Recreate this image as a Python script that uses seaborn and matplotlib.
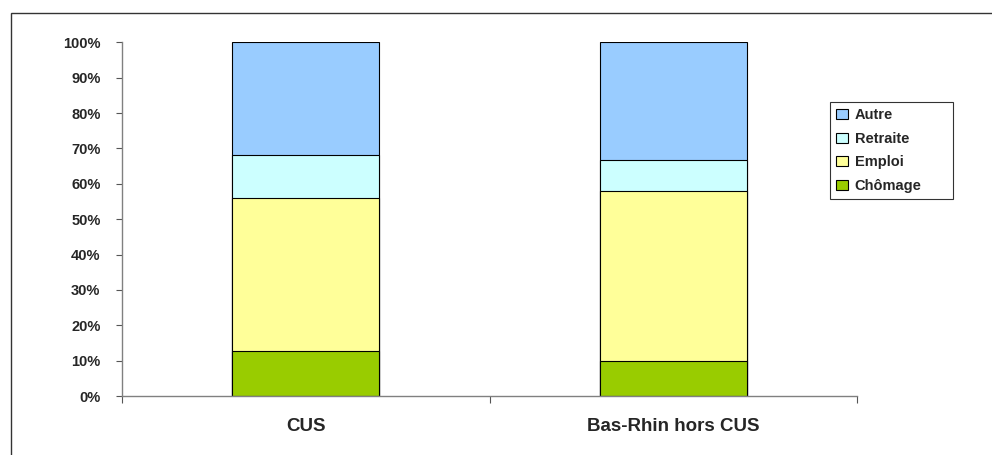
import numpy as np
import pandas as pd
import matplotlib
matplotlib.use("Agg")
import matplotlib.pyplot as plt
from matplotlib.patches import Rectangle, Patch
import seaborn as sns

# ---- data ----
categories = ["CUS", "Bas-Rhin hors CUS"]
series_names = ["Chômage", "Emploi", "Retraite", "Autre"]
chomage = [12.8, 9.8]
emploi = [43.2, 48.2]
retraite = [12.1, 8.6]
autre = [31.9, 33.4]
colors = ["#99CC00", "#FFFF99", "#CCFFFF", "#99CCFF"]
ytick_values = [0, 10, 20, 30, 40, 50, 60, 70, 80, 90, 100]
ytick_labels = ["0%", "10%", "20%", "30%", "40%", "50%", "60%", "70%", "80%", "90%", "100%"]

sns.set_style("white")
plt.rcParams["font.family"] = ["Liberation Sans", "DejaVu Sans"]
plt.rcParams["font.weight"] = "bold"

fig = plt.figure(figsize=(9.92, 4.55), dpi=100)
W, H = 992, 455
ax = fig.add_axes([122 / W, 1 - 396 / H, (857 - 122) / W, (396 - 42.3) / H])

stack = np.vstack([chomage, emploi, retraite, autre])
cum = np.cumsum(stack, axis=0)
df = pd.DataFrame(cum.T, columns=series_names)
df["cat"] = categories

# draw from top segment down so lower segments overlay
for i in range(len(series_names) - 1, -1, -1):
    sns.barplot(data=df, x="cat", y=series_names[i], color=colors[i],
                width=0.4, edgecolor="black", linewidth=0.8,
                saturation=1, ax=ax, errorbar=None)

ax.set_xlim(-0.5, 1.5)
ax.set_ylim(0, 100)
ax.set_xlabel("")
ax.set_ylabel("")
ax.set_yticks(ytick_values)
ax.set_yticklabels(ytick_labels, fontsize=10.5, fontweight="bold")
ax.tick_params(axis="y", length=4.5, width=0.8, color="#555555", pad=11, direction="out", left=True)
ax.set_xticks([0, 1])
ax.set_xticklabels(categories, fontsize=13.5, fontweight="bold")
ax.tick_params(axis="x", which="major", length=0, pad=16)
ax.set_xticks([-0.5, 0.5, 1.5], minor=True)
ax.tick_params(axis="x", which="minor", length=5, width=0.8, color="#555555", direction="out", bottom=True)
for s in ["top", "right"]:
    ax.spines[s].set_visible(False)
for s in ["left", "bottom"]:
    ax.spines[s].set_color("#808080")
    ax.spines[s].set_linewidth(1.0)

# legend
handles = [Patch(facecolor=colors[i], edgecolor="black", linewidth=0.8, label=series_names[i])
           for i in range(len(series_names) - 1, -1, -1)]
leg = fig.legend(handles=handles, loc="upper left", mode="expand",
                 bbox_to_anchor=(830 / W, 1 - 201 / H, (953 - 830) / W, (201 - 102) / H),
                 bbox_transform=fig.transFigure,
                 borderaxespad=0, fancybox=False, shadow=False, frameon=True,
                 prop={"size": 10.5, "weight": "bold"},
                 handlelength=0.82, handleheight=0.7, handletextpad=0.46,
                 labelspacing=0.66, borderpad=0.42)
leg.get_frame().set_edgecolor("black")
leg.get_frame().set_linewidth(0.8)

# outer chart frame (left and top visible)
fig.add_artist(Rectangle((11 / W, -0.1), 1.2, 1 - 13.3 / H + 0.1,
                         transform=fig.transFigure, fill=False,
                         edgecolor="#333333", linewidth=1.0, clip_on=False))

fig.savefig("out.png", dpi=100)
